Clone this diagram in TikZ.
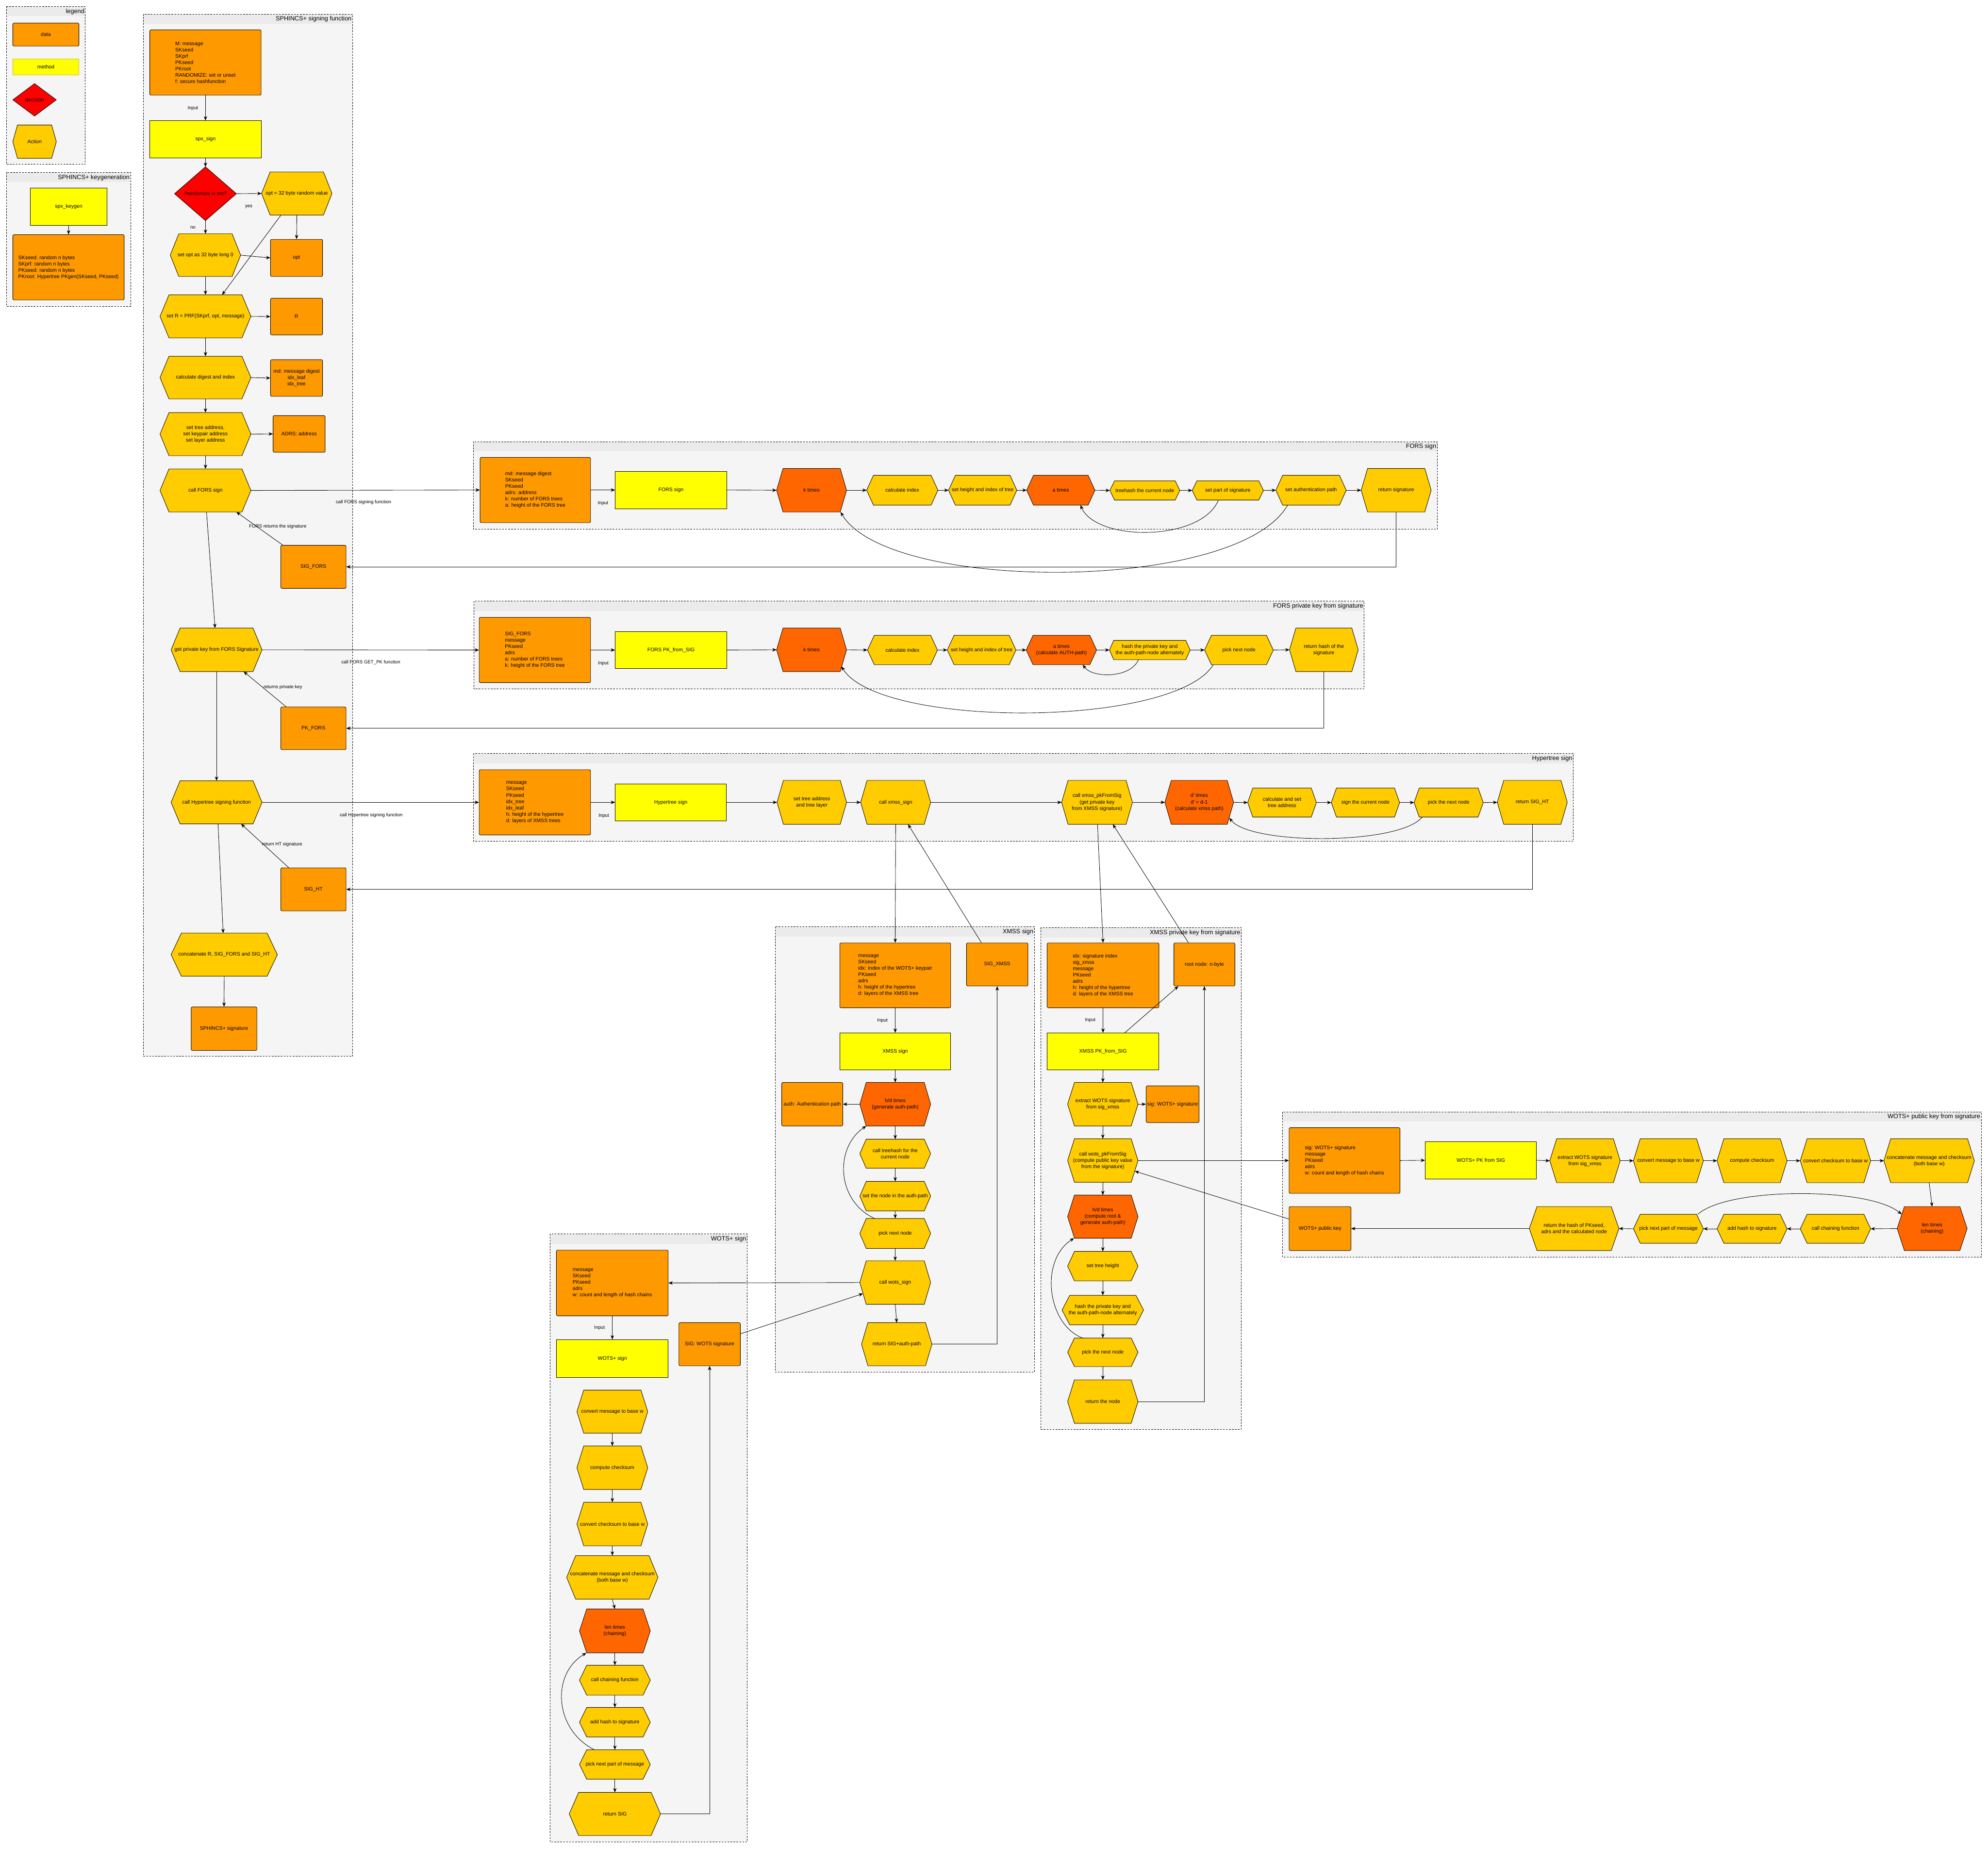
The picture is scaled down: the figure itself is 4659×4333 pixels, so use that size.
\documentclass[tikz,border=0pt]{standalone}
\usepackage{fontspec}
\setmainfont{Liberation Sans}
\usetikzlibrary{arrows.meta,calc,fit}
\definecolor{dataC}{HTML}{FF9900}
\definecolor{methC}{HTML}{FFFF00}
\definecolor{actC}{HTML}{FFCC00}
\definecolor{loopC}{HTML}{FF6600}
\definecolor{decC}{HTML}{FF0000}
\definecolor{contC}{HTML}{F5F5F5}
\definecolor{headC}{HTML}{EBEBEB}
\tikzset{
  nf/.style={font=\fontsize{12}{14.8}\selectfont},
  txt/.style={nf, inner sep=0pt, align=center, text=black},
  databox/.style={draw=black, line width=1pt, fill=dataC, rounded corners=3pt},
  methbox/.style={draw=black, line width=1pt, fill=methC},
  hexline/.style={draw=black, line width=1pt},
  flow/.style={-{Stealth[length=10pt,width=8pt,inset=3pt]}, line width=1pt},
  elab/.style={font=\fontsize{11}{13}\selectfont, inner sep=1pt},
  ctitle/.style={font=\fontsize{14.5}{17}\selectfont, inner sep=0pt, anchor=east},
}
% hexagon: name x1 y1 x2 y2 inset fill text
\newcommand{\hx}[8]{%
  \coordinate (#1-nw) at (#2,#3);
  \coordinate (#1-se) at (#4,#5);
  \node[fit=(#1-nw)(#1-se), inner sep=0pt, outer sep=0pt] (#1) {};
  \filldraw[fill=#7, hexline] (#1.west) -- ([xshift=#6pt]#1.north west) -- ([xshift=-#6pt]#1.north east) -- (#1.east) -- ([xshift=-#6pt]#1.south east) -- ([xshift=#6pt]#1.south west) -- cycle;
  \node[txt] (#1-t) at (#1.center) {#8};
}
% box: name x1 y1 x2 y2 style align text
\newcommand{\bx}[8]{%
  \coordinate (#1-nw) at (#2,#3);
  \coordinate (#1-se) at (#4,#5);
  \node[fit=(#1-nw)(#1-se), inner sep=0pt, #6] (#1) {};
  \node[txt, align=#7] (#1-t) at (#1.center) {#8};
}
% diamond: name x1 y1 x2 y2 text
\newcommand{\dm}[6]{%
  \coordinate (#1-nw) at (#2,#3);
  \coordinate (#1-se) at (#4,#5);
  \node[fit=(#1-nw)(#1-se), inner sep=0pt, outer sep=0pt] (#1) {};
  \filldraw[fill=decC, hexline] (#1.west) -- (#1.north) -- (#1.east) -- (#1.south) -- cycle;
  \node[txt] (#1-t) at (#1.center) {#6};
}
% container: name x1 y1 x2 y2 title
\newcommand{\ct}[6]{%
  \fill[contC] (#2,#3) rectangle (#4,#5);
  \fill[headC] (#2,#3) rectangle (#4,{#3+23});
  \draw[line width=1pt, dash pattern=on 4pt off 3pt] (#2,#3) rectangle (#4,#5);
  \node[ctitle] (#1) at ({#4-2},{#3+12}) {#6};
}
\begin{document}
\begin{tikzpicture}[x=1pt,y=-1pt]
\useasboundingbox[fill=white] (0,0) rectangle (4659,4333);

% ---------------- containers
\ct{c-leg}{15}{15}{200}{385}{legend}
\ct{c-kg}{15}{404}{306}{718}{SPHINCS+ keygeneration}
\ct{c-sp}{336}{33}{826}{2476}{SPHINCS+ signing function}
\ct{c-fs}{1109}{1035}{3368}{1240}{FORS sign}
\ct{c-fp}{1111}{1409}{3197}{1615}{FORS private key from signature}
\ct{c-ht}{1110}{1766}{3687}{1972}{Hypertree sign}
\ct{c-xs}{1817}{2172}{2424}{3216}{XMSS sign}
\ct{c-xp}{2439}{2174}{2909}{3350}{XMSS private key from signature}
\ct{c-wp}{3006}{2606}{4643}{2946}{WOTS+ public key from signature}
\ct{c-ws}{1289}{2892}{1751}{4317}{WOTS+ sign}

% ---------------- legend
\bx{L-data}{30}{54}{185}{108}{databox}{center}{data}
\bx{L-meth}{30}{138}{185}{175}{fill=methC, draw=yellow!75!black, line width=0.6pt}{center}{method}
\dm{L-dec}{30}{196}{132}{272}{decision}
\hx{L-act}{30}{293}{132}{371}{11}{actC}{Action}

% ---------------- keygen
\bx{kg}{71}{441}{251}{528}{methbox}{center}{spx\_keygen}
\bx{kgd}{30}{550}{291}{703}{databox}{left}{SKseed: random n bytes\\SKprf: random n bytes\\PKseed: random n bytes\\PKroot: Hypertree PKgen(SKseed, PKseed)}

% ---------------- SPHINCS+ signing
\bx{s-in}{351}{70}{612}{223}{databox}{left}{M: message\\SKseed\\SKprf\\PKseed\\PKroot\\RANDOMIZE: set or unset\\f: secure hashfunction}
\bx{s-sign}{351}{283}{612}{370}{methbox}{center}{spx\_sign}
\dm{s-dec}{409}{391}{554}{517}{Randomize is set?}
\hx{s-opr}{613}{403}{778}{504}{20}{actC}{opt = 32 byte random value}
\hx{s-op0}{399}{548}{564}{648}{20}{actC}{set opt as 32 byte long 0}
\bx{s-opt}{634}{561}{756}{648}{databox}{center}{opt}
\hx{s-R}{375}{691}{588}{792}{21}{actC}{set R = PRF(SKprf, opt, message)}
\bx{s-Rd}{634}{699}{756}{785}{databox}{center}{R}
\hx{s-dig}{375}{835}{588}{935}{21}{actC}{calculate digest and index}
\bx{s-md}{634}{843}{756}{929}{databox}{center}{md: message digest\\idx\_leaf\\idx\_tree}
\hx{s-adr}{375}{967}{588}{1068}{21}{actC}{set tree address,\\set keypair address\\set layer address}
\bx{s-adrs}{640}{974}{762}{1060}{databox}{center}{ADRS: address}
\hx{s-fors}{375}{1099}{588}{1200}{21}{actC}{call FORS sign}
\bx{s-sigf}{658}{1278}{811}{1379}{databox}{center}{SIG\_FORS}
\hx{s-gpk}{401}{1472}{614}{1574}{21}{actC}{get private key from FORS Signature}
\bx{s-pkf}{658}{1657}{811}{1757}{databox}{center}{PK\_FORS}
\hx{s-ht}{401}{1830}{614}{1931}{21}{actC}{call Hypertree signing function}
\bx{s-sight}{658}{2034}{811}{2135}{databox}{center}{SIG\_HT}
\hx{s-cat}{401}{2187}{650}{2288}{24}{actC}{concatenate R, SIG\_FORS and SIG\_HT}
\bx{s-out}{448}{2360}{602}{2462}{databox}{center}{SPHINCS+ signature}

% ---------------- FORS sign
\bx{f-in}{1125}{1072}{1384}{1225}{databox}{left}{md: message digest\\SKseed\\PKseed\\adrs: address\\k: number of FORS trees\\a: height of the FORS tree}
\bx{f-sign}{1442}{1105}{1703}{1192}{methbox}{center}{FORS sign}
\hx{f-k}{1820}{1098}{1984}{1200}{15}{loopC}{k times}
\hx{f-ci}{2031}{1114}{2198}{1184}{16}{actC}{calculate index}
\hx{f-sh}{2223}{1114}{2383}{1184}{16}{actC}{set height and index of tree}
\hx{f-a}{2406}{1114}{2566}{1184}{16}{loopC}{a times}
\hx{f-th}{2601}{1127}{2765}{1172}{11}{actC}{treehash the current node}
\hx{f-sp}{2794}{1127}{2961}{1172}{11}{actC}{set part of signature}
\hx{f-ap}{2990}{1114}{3155}{1184}{16}{actC}{set authentication path}
\hx{f-ret}{3190}{1098}{3354}{1200}{15}{actC}{return signature}

% ---------------- FORS pk from sig
\bx{p-in}{1123}{1447}{1384}{1600}{databox}{left}{SIG\_FORS\\message\\PKseed\\adrs\\a: number of FORS trees\\k: height of the FORS tree}
\bx{p-sign}{1442}{1480}{1703}{1567}{methbox}{center}{FORS PK\_from\_SIG}
\hx{p-k}{1820}{1472}{1984}{1574}{15}{loopC}{k times}
\hx{p-ci}{2033}{1489}{2197}{1558}{16}{actC}{calculate index}
\hx{p-sh}{2220}{1489}{2381}{1558}{16}{actC}{set height and index of tree}
\hx{p-a}{2405}{1489}{2570}{1558}{16}{loopC}{a times\\(calculate AUTH-path)}
\hx{p-hp}{2600}{1501}{2789}{1546}{10}{actC}{hash the private key and\\the auth-path-node alternately}
\hx{p-pn}{2823}{1489}{2984}{1558}{16}{actC}{pick next node}
\hx{p-ret}{3022}{1472}{3183}{1574}{15}{actC}{return hash of the\\signature}

% ---------------- Hypertree sign
\bx{h-in}{1123}{1804}{1384}{1957}{databox}{left}{message\\SKseed\\PKseed\\idx\_tree\\idx\_leaf\\h: height of the hypertree\\d: layers of XMSS trees}
\bx{h-sign}{1442}{1837}{1702}{1924}{methbox}{center}{Hypertree sign}
\hx{h-sta}{1821}{1829}{1984}{1932}{15}{actC}{set tree address\\and tree layer}
\hx{h-xs}{2017}{1829}{2181}{1932}{15}{actC}{call xmss\_sign}
\hx{h-pk}{2488}{1829}{2654}{1932}{15}{actC}{call xmss\_pkFromSig\\(get private key\\from XMSS signature)}
\hx{h-d}{2730}{1829}{2891}{1932}{15}{loopC}{d\textquotesingle{} times\\d\textquotesingle{} = d-1\\(calculate xmss path)}
\hx{h-ca}{2924}{1847}{3085}{1915}{12}{actC}{calculate and set\\tree address}
\hx{h-sc}{3120}{1847}{3280}{1915}{12}{actC}{sign the current node}
\hx{h-pn}{3314}{1847}{3476}{1915}{12}{actC}{pick the next node}
\hx{h-ret}{3509}{1829}{3673}{1932}{15}{actC}{return SIG\_HT}

% ---------------- XMSS sign
\bx{x-in}{1968}{2210}{2228}{2362}{databox}{left}{message\\SKseed\\idx: index of the WOTS+ keypair\\PKseed\\adrs\\h: height of the hypertree\\d: layers of the XMSS tree}
\bx{x-sign}{1968}{2421}{2228}{2507}{methbox}{center}{XMSS sign}
\bx{x-sig}{2265}{2210}{2409}{2311}{databox}{center}{SIG\_XMSS}
\hx{x-hd}{2015}{2537}{2181}{2639}{15}{loopC}{h/d times\\(generate auth-path)}
\bx{x-auth}{1832}{2537}{1975}{2639}{databox}{center}{auth: Authentication path}
\hx{x-th}{2015}{2670}{2181}{2738}{15}{actC}{call treehash for the\\current node}
\hx{x-sn}{2015}{2769}{2181}{2838}{15}{actC}{set the node in the auth-path}
\hx{x-pn}{2015}{2856}{2181}{2926}{15}{actC}{pick next node}
\hx{x-ws}{2015}{2955}{2181}{3057}{15}{actC}{call wots\_sign}
\hx{x-ret}{2019}{3100}{2184}{3201}{15}{actC}{return SIG+auth-path}

% ---------------- XMSS pk from sig
\bx{k-in}{2454}{2210}{2716}{2362}{databox}{left}{idx: signature index\\sig\_xmss\\message\\PKseed\\adrs\\h: height of the hypertree\\d: layers of the XMSS tree}
\bx{k-sign}{2454}{2421}{2716}{2507}{methbox}{center}{XMSS PK\_from\_SIG}
\bx{k-root}{2751}{2210}{2894}{2311}{databox}{center}{root node: n-byte}
\hx{k-ex}{2502}{2537}{2667}{2639}{16}{actC}{extract WOTS signature\\from sig\_xmss}
\bx{k-sig}{2686}{2545}{2810}{2631}{databox}{center}{sig: WOTS+ signature}
\hx{k-wp}{2502}{2669}{2667}{2771}{16}{actC}{call wots\_pkFromSig\\(compute public key value\\from the signature)}
\hx{k-hd}{2502}{2801}{2667}{2902}{16}{loopC}{h/d times\\(compute root \&\\generate auth-path)}
\hx{k-th}{2502}{2933}{2667}{3002}{16}{actC}{set tree height}
\hx{k-hp}{2489}{3036}{2680}{3105}{18}{actC}{hash the private key and\\the auth-path-node alternately}
\hx{k-pn}{2502}{3136}{2667}{3203}{16}{actC}{pick the next node}
\hx{k-ret}{2502}{3234}{2667}{3336}{16}{actC}{return the node}

% ---------------- WOTS+ pk from sig
\bx{wp-in}{3021}{2643}{3281}{2797}{databox}{left}{sig: WOTS+ signature\\message\\PKseed\\adrs\\w: count and length of hash chains}
\bx{wp-sign}{3340}{2676}{3601}{2763}{methbox}{center}{WOTS+ PK from SIG}
\hx{wp-ex}{3632}{2669}{3797}{2772}{16}{actC}{extract WOTS signature\\from sig\_xmss}
\hx{wp-cm}{3828}{2669}{3992}{2772}{16}{actC}{convert message to base w}
\hx{wp-cc}{4024}{2669}{4188}{2772}{16}{actC}{compute checksum}
\hx{wp-cb}{4219}{2669}{4384}{2772}{16}{actC}{convert checksum to base w}
\hx{wp-cat}{4415}{2669}{4627}{2772}{16}{actC}{concatenate message and checksum\\(both base w)}
\hx{wp-len}{4446}{2828}{4610}{2931}{17}{loopC}{len times\\(chaining)}
\hx{wp-cf}{4219}{2846}{4384}{2914}{16}{actC}{call chaining function}
\hx{wp-ah}{4024}{2846}{4188}{2914}{16}{actC}{add hash to signature}
\hx{wp-pn}{3828}{2846}{3992}{2914}{16}{actC}{pick next part of message}
\hx{wp-rh}{3584}{2828}{3794}{2931}{18}{actC}{return the hash of PKseed,\\adrs and the calculated node}
\bx{wp-pub}{3021}{2828}{3166}{2931}{databox}{center}{WOTS+ public key}

% ---------------- WOTS+ sign
\bx{w-in}{1304}{2930}{1566}{3084}{databox}{left}{message\\SKseed\\PKseed\\adrs\\w: count and length of hash chains}
\bx{w-sign}{1304}{3140}{1566}{3228}{methbox}{center}{WOTS+ sign}
\bx{w-sig}{1591}{3100}{1735}{3201}{databox}{center}{SIG: WOTS signature}
\hx{w-cm}{1352}{3258}{1518}{3359}{16}{actC}{convert message to base w}
\hx{w-cc}{1352}{3389}{1518}{3491}{16}{actC}{compute checksum}
\hx{w-cb}{1352}{3521}{1518}{3623}{16}{actC}{convert checksum to base w}
\hx{w-cat}{1328}{3646}{1542}{3748}{21}{actC}{concatenate message and checksum\\(both base w)}
\hx{w-len}{1358}{3771}{1524}{3874}{17}{loopC}{len times\\(chaining)}
\hx{w-cf}{1358}{3903}{1524}{3973}{17}{actC}{call chaining function}
\hx{w-ah}{1358}{4002}{1524}{4071}{17}{actC}{add hash to signature}
\hx{w-pn}{1358}{4101}{1524}{4170}{17}{actC}{pick next part of message}
\hx{w-ret}{1334}{4201}{1548}{4302}{22}{actC}{return SIG}

% ================= connectors
% keygen
\draw[flow] (kg.south) -- (kgd.north);
% SPHINCS
\draw[flow] (s-in.south) -- (s-sign.north);
\node[elab] (lb-in1) at (452,254) {Input};
\draw[flow] (s-sign.south) -- (s-dec.north);
\draw[flow] (s-dec.east) -- (s-opr.west);
\node[elab] (lb-yes) at (583,484) {yes};
\draw[flow] (s-dec.south) -- (s-op0.north);
\node[elab] (lb-no) at (452,533) {no};
\draw[flow] (s-opr.south) -- (s-opt.north);
\draw[flow] ($(s-opr.south)+(-37,0)$) -- ($(s-R.north)+(39,0)$);
\draw[flow] (s-op0.east) -- (s-opt.west);
\draw[flow] (s-op0.south) -- (s-R.north);
\draw[flow] (s-R.east) -- (s-Rd.west);
\draw[flow] (s-R.south) -- (s-dig.north);
\draw[flow] (s-dig.east) -- (s-md.west);
\draw[flow] (s-dig.south) -- (s-adr.north);
\draw[flow] (s-adr.east) -- (s-adrs.west);
\draw[flow] (s-adr.south) -- (s-fors.north);
\draw[flow] (s-fors.east) -- (f-in.west);
\node[elab] (lb-cf) at (852,1177) {call FORS signing function};
\draw[flow] ($(s-fors.south)+(2.5,0)$) -- ($(s-gpk.north)+(-3.5,0)$);
\draw[flow] ($(s-sigf.north west)+(5,0)$) -- ($(s-fors.south east)+(-34,0)$);
\node[elab] (lb-fr) at (651,1234) {FORS returns the signature};
\draw[flow] (f-ret.south) |- (s-sigf.east);
\draw[flow] (s-gpk.east) -- (p-in.west);
\node[elab] (lb-gp) at (869,1553) {call FORS GET\_PK function};
\draw[flow] ($(s-pkf.north west)+(13,0)$) -- ($(s-gpk.south east)+(-43,0)$);
\node[elab] (lb-rp) at (663,1611) {returns private key};
\draw[flow] (p-ret.south) |- (s-pkf.east);
\draw[flow] (s-gpk.south) -- (s-ht.north);
\draw[flow] (s-ht.east) -- (h-in.west);
\node[elab] (lb-ch) at (870,1911) {call Hypertree signing function};
\draw[flow] ($(s-sight.north west)+(19,0)$) -- ($(s-ht.south east)+(-49,0)$);
\node[elab] (lb-rh) at (661,1979) {return HT signature};
\draw[flow] (h-ret.south) |- (s-sight.east);
\draw[flow] ($(s-ht.south)+(3.5,0)$) -- ($(s-cat.north)+(-2.5,0)$);
\draw[flow] (s-cat.south) -- (s-out.north);

% FORS sign
\draw[flow] (f-in.east) -- (f-sign.west);
\node[elab] (lb-in2) at (1413,1180) {Input};
\draw[flow] (f-sign.east) -- (f-k.west);
\draw[flow] (f-k.east) -- (f-ci.west);
\draw[flow] (f-ci.east) -- (f-sh.west);
\draw[flow] (f-sh.east) -- (f-a.west);
\draw[flow] (f-a.east) -- (f-th.west);
\draw[flow] (f-th.east) -- (f-sp.west);
\draw[flow] (f-sp.east) -- (f-ap.west);
\draw[flow] (f-ap.east) -- (f-ret.west);
\draw[flow] ($(f-sp.south)+(-22,0)$) .. controls (2815,1270) and (2570,1270) .. ($(f-a.south)+(46,0)$);
\draw[flow] ($(f-ap.south)+(-55,0)$) .. controls (2900,1390) and (2080,1390) .. ($(f-k.south east)+(-14,0)$);

% FORS pk
\draw[flow] (p-in.east) -- (p-sign.west);
\node[elab] (lb-in3) at (1414,1555) {Input};
\draw[flow] (p-sign.east) -- (p-k.west);
\draw[flow] (p-k.east) -- (p-ci.west);
\draw[flow] (p-ci.east) -- (p-sh.west);
\draw[flow] (p-sh.east) -- (p-a.west);
\draw[flow] (p-a.east) -- (p-hp.west);
\draw[flow] (p-hp.east) -- (p-pn.west);
\draw[flow] (p-pn.east) -- (p-ret.west);
\draw[flow] ($(p-hp.south)+(-26.5,0)$) .. controls (2650,1590) and (2560,1590) .. ($(p-a.south)+(50,0)$);
\draw[flow] ($(p-pn.south)+(-60,0)$) .. controls (2750,1707) and (2060,1707) .. ($(p-k.south east)+(-12,-12)$);

% Hypertree
\draw[flow] (h-in.east) -- (h-sign.west);
\node[elab] (lb-in4) at (1415,1912) {Input};
\draw[flow] (h-sign.east) -- (h-sta.west);
\draw[flow] (h-sta.east) -- (h-xs.west);
\draw[flow] (h-xs.east) -- (h-pk.west);
\draw[flow] (h-pk.east) -- (h-d.west);
\draw[flow] (h-d.east) -- (h-ca.west);
\draw[flow] (h-ca.east) -- (h-sc.west);
\draw[flow] (h-sc.east) -- (h-pn.west);
\draw[flow] (h-pn.east) -- (h-ret.west);
\draw[flow] ($(h-pn.south)+(-62,0)$) .. controls (3280,1981) and (2930,1981) .. ($(h-d.south east)+(-10,-15)$);
\draw[flow] (h-xs.south) -- (x-in.north);
\draw[flow] ($(x-sig.north)+(-37,0)$) -- ($(h-xs.south)+(29,0)$);
\draw[flow] ($(h-pk.south)+(1,0)$) -- (k-in.north);
\draw[flow] ($(k-root.north)+(-37.5,0)$) -- ($(h-pk.south)+(37,0)$);

% XMSS sign
\draw[flow] (x-in.south) -- (x-sign.north);
\node[elab] (lb-in5) at (2068,2392) {Input};
\draw[flow] (x-sign.south) -- (x-hd.north);
\draw[flow] (x-hd.west) -- (x-auth.east);
\draw[flow] (x-hd.south) -- (x-th.north);
\draw[flow] (x-th.south) -- (x-sn.north);
\draw[flow] (x-sn.south) -- (x-pn.north);
\draw[flow] (x-pn.south) -- (x-ws.north);
\draw[flow] (x-ws.south) -- (x-ret.north);
\draw[flow] (x-ret.east) -| (x-sig.south);
\draw[flow] ($(x-pn.north west)+(35,0)$) .. controls (1960,2815) and (1955,2690) .. ($(x-hd.south west)+(15,0)$);
\draw[flow] (x-ws.west) -- (w-in.east);
\draw[flow] ($(w-sig.east)+(0,-24.5)$) -- ($(x-ws.west)+(7.5,26)$);

% XMSS pk
\draw[flow] (k-in.south) -- (k-sign.north);
\node[elab] (lb-in6) at (2555,2391) {Input};
\draw[flow] ($(k-sign.north)+(51,0)$) -- ($(k-root.south west)+(11,0)$);
\draw[flow] (k-sign.south) -- (k-ex.north);
\draw[flow] (k-ex.east) -- (k-sig.west);
\draw[flow] (k-ex.south) -- (k-wp.north);
\draw[flow] (k-wp.south) -- (k-hd.north);
\draw[flow] (k-hd.south) -- (k-th.north);
\draw[flow] (k-th.south) -- (k-hp.north);
\draw[flow] (k-hp.south) -- (k-pn.north);
\draw[flow] (k-pn.south) -- (k-ret.north);
\draw[flow] (k-ret.east) -| (k-root.south);
\draw[flow] ($(k-pn.north west)+(35,0)$) .. controls (2455,3105) and (2435,2955) .. ($(k-hd.south west)+(15,0)$);
\draw[flow] (k-wp.east) -- (wp-in.west);
\draw[flow] ($(wp-pub.west)+(0,-22.5)$) -- ($(k-wp.east)+(-7.5,25)$);

% WOTS+ pk
\draw[flow] (wp-in.east) -- (wp-sign.west);
\draw[flow] (wp-sign.east) -- (wp-ex.west);
\draw[flow] (wp-ex.east) -- (wp-cm.west);
\draw[flow] (wp-cm.east) -- (wp-cc.west);
\draw[flow] (wp-cc.east) -- (wp-cb.west);
\draw[flow] (wp-cb.east) -- (wp-cat.west);
\draw[flow] (wp-cat.south) -- (wp-len.north);
\draw[flow] (wp-len.west) -- (wp-cf.east);
\draw[flow] (wp-cf.west) -- (wp-ah.east);
\draw[flow] (wp-ah.west) -- (wp-pn.east);
\draw[flow] (wp-pn.west) -- (wp-rh.east);
\draw[flow] (wp-rh.west) -- (wp-pub.east);
\draw[flow] ($(wp-pn.north east)+(-13,0)$) .. controls (4050,2782) and (4380,2782) .. ($(wp-len.north west)+(10.5,18)$);

% WOTS+ sign
\draw[flow] (w-in.south) -- (w-sign.north);
\node[elab] (lb-in7) at (1405,3112) {Input};
\draw[flow] (w-cm.south) -- (w-cc.north);
\draw[flow] (w-cc.south) -- (w-cb.north);
\draw[flow] (w-cb.south) -- (w-cat.north);
\draw[flow] (w-cat.south) -- (w-len.north);
\draw[flow] (w-len.south) -- (w-cf.north);
\draw[flow] (w-cf.south) -- (w-ah.north);
\draw[flow] (w-ah.south) -- (w-pn.north);
\draw[flow] (w-pn.south) -- (w-ret.north);
\draw[flow] (w-ret.east) -| (w-sig.south);
\draw[flow] ($(w-pn.north west)+(35,0)$) .. controls (1300,4055) and (1290,3925) .. ($(w-len.south west)+(16,0)$);
\end{tikzpicture}
\end{document}
